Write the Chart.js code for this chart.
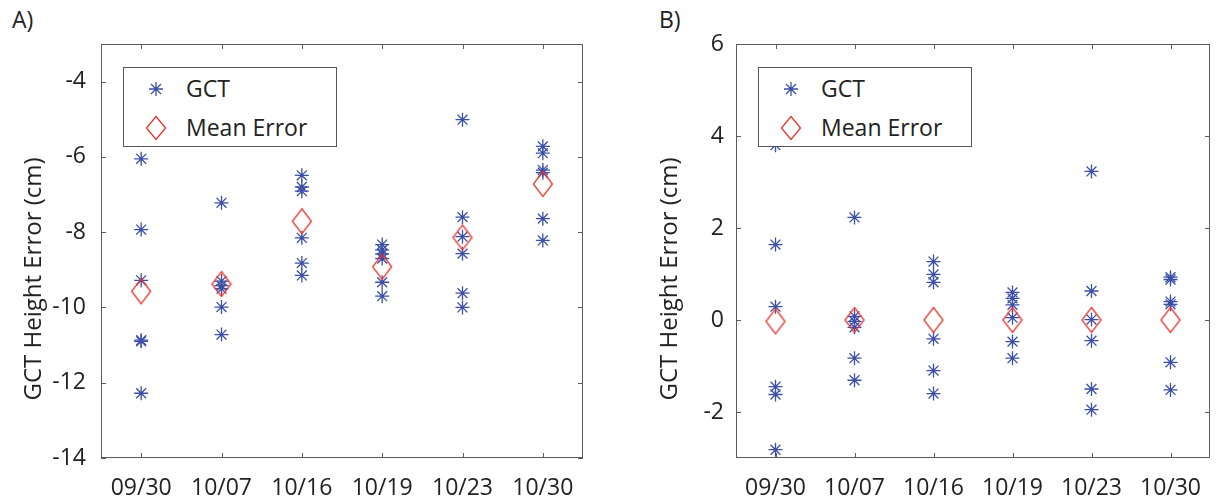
<!DOCTYPE html>
<html>
<head>
<meta charset="utf-8">
<script src="https://cdn.jsdelivr.net/npm/chart.js@4.4.1/dist/chart.umd.min.js"></script>
<style>
  body { margin: 0; background: #fff; width: 1223px; height: 504px; overflow: hidden; position: relative; font-family: 'Open Sans', sans-serif; color: #222; }
  canvas { position: absolute; top: 0; }
  .tag { position: absolute; top: 8px; font-size: 23px; line-height: 23px; }
  .ytitle { position: absolute; top: 279px; width: 300px; margin-left: -150px; margin-top: -14px; height: 28px; line-height: 28px; text-align: center; font-size: 24px; transform: rotate(-90deg); white-space: nowrap; }
  .legend { position: absolute; top: 67px; width: 214px; height: 80px; box-sizing: border-box; border: 1px solid #555; background: #fff; font-size: 23px; }
  .legend svg { position: absolute; left: 20px; }
  .legend span { position: absolute; left: 62px; line-height: 23px; white-space: nowrap; }
</style>
</head>
<body>
<div class="tag" style="left:12px">A)</div>
<div class="tag" style="left:659px">B)</div>
<canvas id="chartA" width="611" height="504" style="left:0"></canvas>
<canvas id="chartB" width="612" height="504" style="left:611px"></canvas>
<div class="ytitle" style="left:32px">GCT Height Error (cm)</div>
<div class="ytitle" style="left:668px">GCT Height Error (cm)</div>

<div class="legend" style="left:123px">
  <svg style="top:7px" width="24" height="28" viewBox="0 0 24 28"><path d="M12 7V21M5 14H19M7 9L17 19M17 9L7 19" stroke="#3b4fa6" stroke-width="1.3"/></svg>
  <span style="top:9px">GCT</span>
  <svg style="top:46px" width="24" height="28" viewBox="0 0 24 28"><path d="M12 2.5L21.5 14L12 25.5L2.5 14Z" fill="none" stroke="#e8342c" stroke-width="1.3"/></svg>
  <span style="top:48px">Mean Error</span>
</div>
<div class="legend" style="left:758px">
  <svg style="top:7px" width="24" height="28" viewBox="0 0 24 28"><path d="M12 7V21M5 14H19M7 9L17 19M17 9L7 19" stroke="#3b4fa6" stroke-width="1.3"/></svg>
  <span style="top:9px">GCT</span>
  <svg style="top:46px" width="24" height="28" viewBox="0 0 24 28"><path d="M12 2.5L21.5 14L12 25.5L2.5 14Z" fill="none" stroke="#e8342c" stroke-width="1.3"/></svg>
  <span style="top:48px">Mean Error</span>
</div>

<script>
const dates = ['09/30', '10/07', '10/16', '10/19', '10/23', '10/30'];

// A) GCT height error per survey date (cm)
const gctA = [
  [-6.05, -7.93, -9.28, -10.87, -10.90, -12.28],
  [-7.22, -9.30, -9.42, -9.50, -9.99, -10.72],
  [-6.49, -6.80, -6.91, -8.15, -8.82, -9.15],
  [-8.33, -8.47, -8.58, -8.70, -9.33, -9.70],
  [-5.01, -7.60, -8.12, -8.57, -9.62, -10.00],
  [-5.72, -5.90, -6.35, -6.42, -7.64, -8.22]
];
const meanA = [-9.57, -9.38, -7.71, -8.92, -8.14, -6.72];

// B) same errors with the mean removed
const gctB = [
  [3.80, 1.64, 0.29, -1.45, -1.62, -2.82],
  [2.23, 0.08, -0.03, -0.16, -0.83, -1.31],
  [1.27, 0.99, 0.82, -0.41, -1.10, -1.60],
  [0.60, 0.47, 0.33, 0.05, -0.47, -0.83],
  [3.23, 0.63, 0.01, -0.45, -1.50, -1.95],
  [0.93, 0.88, 0.40, 0.34, -0.92, -1.52]
];
const meanB = [-0.03, 0, 0, 0, 0, 0];

const yRangeA = [-14, -3];
const yRangeB = [-3, 6];

const starColor = '#3b4fa6';
const diamondColor = '#e8342c';
const tickFont = { family: 'Open Sans', size: 23 };

function diamondImage() {
  const c = document.createElement('canvas');
  c.width = 22;
  c.height = 28;
  const ctx = c.getContext('2d');
  ctx.strokeStyle = diamondColor;
  ctx.lineWidth = 1.3;
  ctx.beginPath();
  ctx.moveTo(11, 1.5);
  ctx.lineTo(20.5, 14);
  ctx.lineTo(11, 26.5);
  ctx.lineTo(1.5, 14);
  ctx.closePath();
  ctx.stroke();
  return c;
}
const diamond = diamondImage();

// matlab style box with inward ticks on every side
const boxTicks = {
  id: 'boxTicks',
  afterDraw(chart) {
    const { ctx, chartArea: a, scales: { x, y } } = chart;
    ctx.save();
    ctx.strokeStyle = '#5c5c5c';
    ctx.lineWidth = 1;
    ctx.strokeRect(Math.round(a.left) + 0.5, Math.round(a.top) + 0.5, Math.round(a.width) - 1, Math.round(a.height) - 1);
    ctx.beginPath();
    x.ticks.forEach((t) => {
      const px = Math.round(x.getPixelForValue(t.value)) + 0.5;
      ctx.moveTo(px, a.bottom);
      ctx.lineTo(px, a.bottom - 5);
      ctx.moveTo(px, a.top);
      ctx.lineTo(px, a.top + 5);
    });
    y.ticks.forEach((t) => {
      const py = Math.round(y.getPixelForValue(t.value)) + 0.5;
      ctx.moveTo(a.left, py);
      ctx.lineTo(a.left + 5, py);
      ctx.moveTo(a.right, py);
      ctx.lineTo(a.right - 5, py);
    });
    ctx.stroke();
    ctx.restore();
  }
};

function makeChart(canvas, gct, means, yRange, axisWidth, labelPad, rightPad) {
  const points = [];
  gct.forEach((vals, i) => vals.forEach((v) => points.push({ x: i + 1, y: v })));
  const meanPoints = means.map((v, i) => ({ x: i + 1, y: v }));

  new Chart(canvas, {
    type: 'scatter',
    data: {
      datasets: [
        {
          label: 'Mean Error',
          data: meanPoints,
          pointStyle: diamond,
          radius: 12,
          borderColor: diamondColor,
          backgroundColor: 'rgba(0,0,0,0)'
        },
        {
          label: 'GCT',
          data: points,
          pointStyle: 'star',
          radius: 7,
          borderWidth: 1.3,
          borderColor: starColor,
          backgroundColor: starColor
        }
      ]
    },
    options: {
      responsive: false,
      animation: false,
      events: [],
      layout: { padding: { top: 44, right: rightPad, left: 0, bottom: 0 } },
      plugins: { legend: { display: false }, tooltip: { enabled: false } },
      scales: {
        x: {
          type: 'linear',
          min: 0.5,
          max: 6.5,
          afterFit: (s) => { s.height = 46; },
          afterBuildTicks: (s) => { s.ticks = dates.map((d, i) => ({ value: i + 1 })); },
          grid: { display: false, drawTicks: false },
          border: { display: false },
          ticks: {
            autoSkip: false,
            maxRotation: 0,
            padding: 17,
            color: '#222',
            font: tickFont,
            callback: (v) => dates[Math.round(v) - 1]
          }
        },
        y: {
          min: yRange[0],
          max: yRange[1],
          afterFit: (s) => { s.width = axisWidth; },
          grid: { display: false, drawTicks: false },
          border: { display: false },
          ticks: {
            stepSize: 2,
            includeBounds: false,
            padding: labelPad,
            color: '#222',
            font: tickFont
          }
        }
      }
    },
    plugins: [boxTicks]
  });
}

makeChart(document.getElementById('chartA'), gctA, meanA, yRangeA, 101, 15, 28);
makeChart(document.getElementById('chartB'), gctB, meanB, yRangeB, 125, 12, 6);
</script>
</body>
</html>
